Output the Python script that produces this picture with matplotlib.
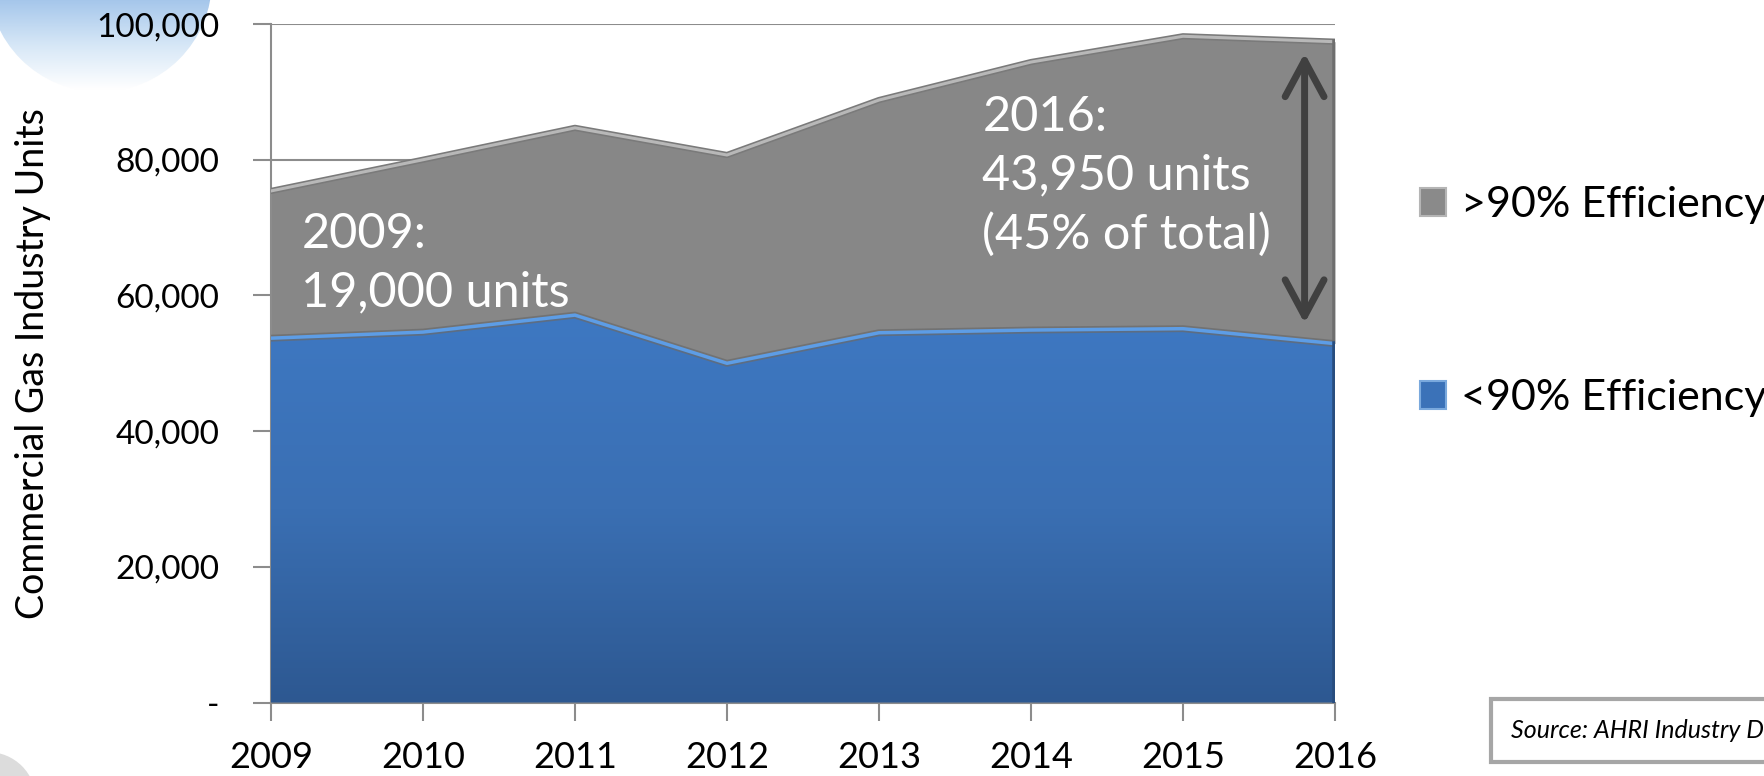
# commercial gas furnace shipments by efficiency class, stacked area
import numpy as np
import matplotlib.pyplot as plt
from matplotlib.patches import Circle, Rectangle
from matplotlib.colors import LinearSegmentedColormap

plt.rcParams['font.family'] = ['Lato', 'DejaVu Sans']

YEARS = [2009, 2010, 2011, 2012, 2013, 2014, 2015, 2016]
BELOW_90 = [53700, 54600, 57100, 50000, 54500, 54900, 55100, 52900]
ABOVE_90 = [21700, 25400, 27600, 30700, 34300, 39500, 43100, 44500]
Y_TICKS = [0, 20000, 40000, 60000, 80000, 100000]
Y_LABELS = ["-", "20,000", "40,000", "60,000", "80,000", "100,000"]
SERIES_NAMES = [">90% Efficiency", "<90% Efficiency"]
NOTE_2009 = "2009:\n19,000 units"
NOTE_2016 = "2016:\n43,950 units\n(45% of total)"
SOURCE = "Source: AHRI Industry Data"


def add_background(fig):
    # decor du slide : globe en haut a gauche, cercle gris en bas
    bg = fig.add_axes([0, 0, 1, 1], zorder=-5)
    bg.set_xlim(0, 1764)
    bg.set_ylim(776, 0)
    bg.axis("off")
    globe_cmap = LinearSegmentedColormap.from_list(
        "globe", ["#7ea8dc", "#a9c9ec", "#d8e8f7", "#ffffff"])
    grad = np.linspace(0, 1, 200).reshape(-1, 1)
    img = bg.imshow(grad, cmap=globe_cmap, extent=(-10, 220, 90, -40), aspect="auto")
    clip = Circle((100, -20), 112, transform=bg.transData)
    img.set_clip_path(clip)
    bg.add_patch(Circle((-12, 800), 48, color="#dcdcdc", lw=0))


def gradient_fill(ax, x, y_top, colors, zorder):
    poly = ax.fill_between(x, 0, y_top, color="none", lw=0, zorder=zorder)
    cmap = LinearSegmentedColormap.from_list("g", colors)
    grad = np.linspace(0, 1, 256).reshape(-1, 1)
    img = ax.imshow(grad, cmap=cmap, origin="lower", aspect="auto",
                    extent=(x[0], x[-1], 0, max(y_top)), zorder=zorder)
    img.set_clip_path(poly.get_paths()[0], transform=ax.transData)


def main():
    years = np.array(YEARS)
    below = np.array(BELOW_90)
    total = below + np.array(ABOVE_90)

    fig = plt.figure(figsize=(17.64, 7.76), dpi=100)
    add_background(fig)
    ax = fig.add_axes([0.1536, 0.0947, 0.6032, 0.8743])

    # couche >90%
    ax.fill_between(years, below, total, color="#878787", lw=0, zorder=2)
    ax.plot(years, total, color="#7a7a7a", lw=4.5, zorder=3, solid_joinstyle="round")
    ax.plot(years, total, color="#b8b8b8", lw=2.2, zorder=3, solid_joinstyle="round")
    ax.plot([years[-1], years[-1]], [below[-1], total[-1]], color="#6e6e6e", lw=4, zorder=3)

    # couche <90% avec degrade
    gradient_fill(ax, years, below, ["#2d5891", "#3a6fb3", "#3e78c2"], 4)
    ax.plot(years, below, color="#6a6a6a", lw=5, alpha=0.7, zorder=5)
    ax.plot(years, below, color="#5d9de6", lw=2.5, zorder=6)
    ax.plot([years[-1], years[-1]], [0, below[-1]], color="#284d7e", lw=4, zorder=6)

    ax.set_xlim(years[0], years[-1])
    ax.set_ylim(0, 100000)
    ax.set_xticks(years)
    ax.set_xticklabels([str(y) for y in YEARS], fontsize=26)
    ax.set_yticks(Y_TICKS)
    ax.set_yticklabels(Y_LABELS, fontsize=24)
    ax.tick_params(axis="both", direction="out", length=13, width=1.5, color="#8c8c8c")
    ax.tick_params(axis="y", pad=24)
    ax.tick_params(axis="x", pad=15)
    ax.set_axisbelow(True)
    ax.grid(axis="y", color="#8c8c8c", lw=1.5, zorder=0)
    for side in ["top", "right"]:
        ax.spines[side].set_visible(False)
    for side in ["left", "bottom"]:
        ax.spines[side].set_color("#8c8c8c")
        ax.spines[side].set_linewidth(1.5)
    ax.set_ylabel("Commercial Gas Industry Units", fontsize=27)
    ax.yaxis.set_label_coords(-0.207, 0.5)

    ax.text(2009.2, 72300, NOTE_2009, color="white", fontsize=35, va="top", ha="left",
            linespacing=1.4, zorder=8)
    ax.text(2013.68, 89500, NOTE_2016, color="white", fontsize=35, va="top", ha="left",
            linespacing=1.4, zorder=8)
    ax.annotate("", xy=(2015.8, 95700), xytext=(2015.8, 55900),
                arrowprops=dict(arrowstyle="<->, head_length=0.65, head_width=0.35",
                                color="#404040", lw=5, mutation_scale=40,
                                shrinkA=0, shrinkB=0), zorder=9)

    # legende a droite
    handles = [Rectangle((0, 0), 1, 1, facecolor="#8a8a8a", edgecolor="#b5b5b5", lw=1.5),
               Rectangle((0, 0), 1, 1, facecolor="#3b72b8", edgecolor="#7aa9dd", lw=1.5)]
    fig.legend(handles, SERIES_NAMES, loc="upper left", bbox_to_anchor=(0.783, 0.81),
               frameon=False, fontsize=31, handlelength=0.6, handleheight=0.6,
               handletextpad=0.35, labelspacing=3.6)

    fig.text(0.8566, 0.058, SOURCE, fontsize=18, style="italic", va="center", ha="left",
             bbox=dict(boxstyle="square,pad=0.8", facecolor="white", edgecolor="#a6a6a6", lw=3))

    fig.savefig("out.png", dpi=100)
    return 0


if __name__ == "__main__":
    main()
